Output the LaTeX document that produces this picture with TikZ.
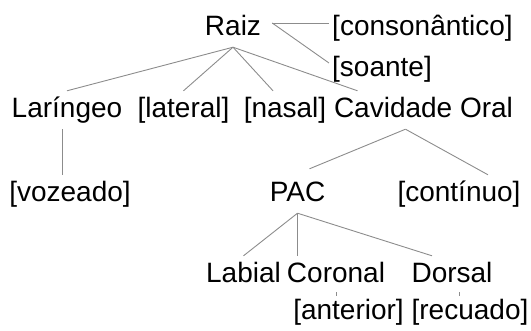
\documentclass[tikz,border=0pt]{standalone}
\usepackage{fontspec}
\setmainfont{Liberation Sans}
\begin{document}
\begin{tikzpicture}[x=1pt,y=-1pt,
      feat/.style={anchor=base,inner xsep=3pt,inner ysep=0pt,
        text height=27pt,text depth=11pt,font=\fontsize{28}{34}\selectfont},
      link/.style={draw=black!45,line width=0.9pt}]
      \useasboundingbox (0,0) rectangle (531,331);
      \node[feat] (raiz) at (233,36) {Raiz};
      \node[feat] (cons) at (422.5,36) {[consonântico]};
      \node[feat] (soante) at (382,77) {[soante]};
      \node[feat] (lar) at (67,118) {Laríngeo};
      \node[feat] (lat) at (183.5,118) {[lateral]};
      \node[feat] (nas) at (285,118) {[nasal]};
      \node[feat] (cav) at (423.5,118) {Cavidade Oral};
      \node[feat] (voz) at (70,202) {[vozeado]};
      \node[feat] (pac) at (297.5,202) {PAC};
      \node[feat] (cont) at (459,202) {[contínuo]};
      \node[feat] (lab) at (243.5,283) {Labial};
      \node[feat] (cor) at (336,283) {Coronal};
      \node[feat] (dor) at (452,283) {Dorsal};
      \node[feat] (ant) at (348.5,320) {[anterior]};
      \node[feat] (rec) at (470,320) {[recuado]};
      \coordinate (rz) at ([shift={(8pt,13pt)}]raiz.base east);
      \path[link] (raiz.south) -- (lar.north);
      \path[link] (raiz.south) -- (lat.north);
      \path[link] (raiz.south) -- ([xshift=-12pt]nas.north);
      \path[link] (raiz.south) -- ([xshift=-66pt]cav.north);
      \path[link] (rz) -- (rz -| cons.west);
      \path[link] (rz) -- ([yshift=6pt]soante.west);
      \path[link] ([xshift=-5pt]lar.south) -- ([xshift=-5pt]lar.south |- voz.north);
      \path[link] ([xshift=-18pt]cav.south) -- ([shift={(12pt,6pt)}]pac.north);
      \path[link] ([xshift=-18pt]cav.south) -- ([xshift=29pt]cont.north);
      \path[link] (pac.south) -- (lab.north);
      \path[link] (pac.south) -- (pac.south |- cor.north);
      \path[link] (pac.south) -- ([xshift=-20pt]dor.north);
      \path[link,line width=0.6pt] ([yshift=2pt]cor.south) -- ([yshift=-2pt]cor.south);
      \path[link,line width=0.6pt] ([shift={(7pt,2pt)}]dor.south) -- ([shift={(7pt,-2pt)}]dor.south);
\end{tikzpicture}
\end{document}
